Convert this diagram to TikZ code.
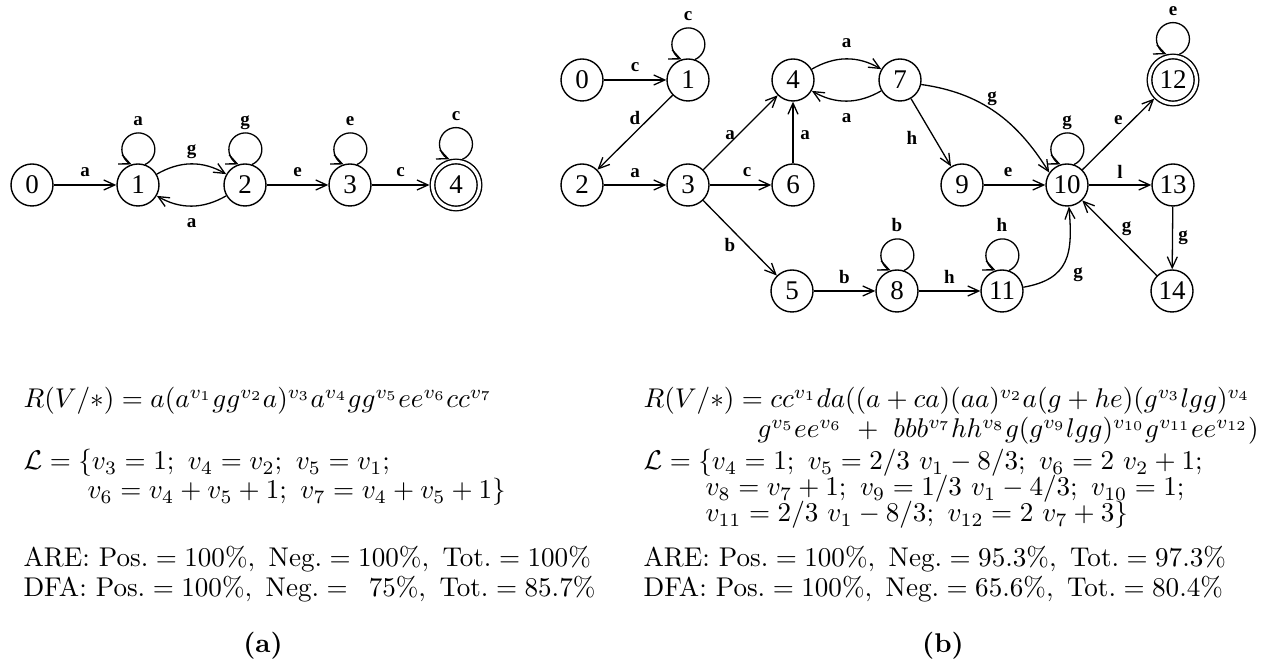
\documentclass[tikz,border=0pt]{standalone}
\usepackage{fontspec}
\usetikzlibrary{arrows.meta}
\newfontfamily\timesf{Liberation Serif}
\newcommand{\nodeloop}[2]{%
  \draw[arr] (#1.71) arc[start angle=-66, end angle=246, radius=16.5pt];
  \node[lab, anchor=base] at ([yshift=59pt]#1.center) {#2};}
\newcommand{\accloop}[2]{%
  \draw[arr] (#1.76) arc[start angle=-67, end angle=247, radius=16.5pt];
  \node[lab, anchor=base] at ([yshift=64pt]#1.center) {#2};}
\tikzset{
  st/.style={circle, draw, line width=1.4pt, minimum size=42pt, inner sep=0pt,
    font=\fontsize{27}{27}\selectfont\timesf},
  acc/.style={st, double, double distance=3.2pt, minimum size=47pt, outer sep=3pt},
  arr/.style={line width=1.3pt, -{Straight Barb[length=11pt,width=10pt]}},
  lab/.style={font=\fontsize{19}{19}\selectfont\timesf\bfseries, inner sep=0pt},
  txt/.style={anchor=base west, inner sep=0pt, scale=2.71},
  subcap/.style={anchor=base, inner sep=0pt, scale=2.71, font=\bfseries}
}
\begin{document}
\begin{tikzpicture}[x=1pt,y=1pt]
\useasboundingbox (0,0) rectangle (1278,667);
% ---------- left automaton ----------
\node[st] (a0) at (32,482) {0};
\node[st] (a1) at (138,482) {1};
\node[st] (a2) at (245,482) {2};
\node[st] (a3) at (350,482) {3};
\node[acc] (a4) at (456,482) {4};
\draw[arr] (a0) -- node[lab, yshift=13pt]{a} (a1);
\draw[arr] (a1) to[bend left=30] node[lab, yshift=12pt]{g} (a2);
\draw[arr] (a2) to[bend left=30] node[lab, yshift=-17pt]{a} (a1);
\draw[arr] (a2) -- node[lab, yshift=13pt]{e} (a3);
\draw[arr] (a3) -- node[lab, yshift=13pt]{c} (a4);
\nodeloop{a1}{a}
\nodeloop{a2}{g}
\nodeloop{a3}{e}
\accloop{a4}{c}
% ---------- right automaton ----------
\node[st] (b0) at (582,587) {0};
\node[st] (b1) at (688,587) {1};
\node[st] (b2) at (582,482) {2};
\node[st] (b3) at (688,482) {3};
\node[st] (b4) at (793,587) {4};
\node[st] (b7) at (900,587) {7};
\node[st] (b6) at (793,482) {6};
\node[st] (b9) at (962,482) {9};
\node[st] (b10) at (1067,482) {10};
\node[acc] (b12) at (1173,587) {12};
\node[st] (b13) at (1173,482) {13};
\node[st] (b14) at (1172,376) {14};
\node[st] (b5) at (792,376) {5};
\node[st] (b8) at (897,376) {8};
\node[st] (b11) at (1002,376) {11};
\draw[arr] (b0) -- node[lab, yshift=13pt]{c} (b1);
\nodeloop{b1}{c}
\draw[arr] (b1) -- node[lab, yshift=14.5pt]{d} (b2);
\draw[arr] (b2) -- node[lab, yshift=12pt]{a} (b3);
\draw[arr] (b3) -- node[lab, xshift=-10.5pt, yshift=-2.5pt]{a} (b4);
\draw[arr] (b3) -- node[lab, xshift=6.5pt, yshift=13pt]{c} (b6);
\draw[arr] (b6) -- node[lab, xshift=12pt, yshift=-2.5pt]{a} (b4);
\draw[arr] (b4) to[bend left=30] node[lab, yshift=16pt]{a} (b7);
\draw[arr] (b7) to[bend left=30] node[lab, yshift=-17pt]{a} (b4);
\draw[arr] (b3) -- node[lab, xshift=-10pt, yshift=-7pt]{b} (b5);
\draw[arr] (b5) -- node[lab, yshift=14pt]{b} (b8);
\nodeloop{b8}{b}
\draw[arr] (b8) -- node[lab, yshift=14pt]{h} (b11);
\nodeloop{b11}{h}
\draw[arr] (b11.10) to[out=10, in=-85, looseness=1.3] node[lab, xshift=13pt, yshift=-13pt]{g} (b10.-85);
\draw[arr] (b7) -- node[lab, xshift=-19pt, yshift=-5.5pt]{h} (b9);
\draw[arr] (b7.-12) to[out=-8, in=122] node[lab, xshift=-3.7pt, yshift=14pt]{g} (b10.145);
\draw[arr] (b9) -- node[lab, xshift=-6.5pt, yshift=13pt]{e} (b10);
\nodeloop{b10}{g}
\draw[arr] (b10) -- node[lab, yshift=14.5pt]{e} (b12);
\accloop{b12}{e}
\draw[arr] (b10) -- node[lab, yshift=13pt]{l} (b13);
\draw[arr] (b13) -- node[lab, xshift=10.5pt]{g} (b14);
\draw[arr] (b14) -- node[lab, xshift=7pt, yshift=9pt]{g} (b10);
% ---------- left text ----------
\node[txt] (tl1) at (23,259) {$R(V/*) = a(a^{v_1}gg^{v_2}a)^{v_3}a^{v_4}gg^{v_5}ee^{v_6}cc^{v_7}$};
\node[txt] (tl2) at (23,197) {$\mathcal{L} = \{v_3 = 1;\ v_4 = v_2;\ v_5 = v_1;$};
\node[txt] (tl3) at (87,168) {$v_6 = v_4 + v_5 + 1;\ v_7 = v_4 + v_5 + 1\}$};
\node[txt] (tl4) at (23,100) {$\mbox{ARE: Pos.} = 100\%,\ \mbox{Neg.} = 100\%,\ \mbox{Tot.} = 100\%$};
\node[txt] (tl5) at (23,70) {$\mbox{DFA: Pos.} = 100\%,\ \mbox{Neg.} = \phantom{0}75\%,\ \mbox{Tot.} = 85.7\%$};
\node[subcap] (capa) at (263,14) {(a)};
% ---------- right text ----------
\node[txt] (tr1) at (643,259) {$R(V/*) = cc^{v_1}da((a+ca)(aa)^{v_2}a(g+he)(g^{v_3}lgg)^{v_4}$};
\node[txt] (tr2) at (757,229) {$g^{v_5}ee^{v_6}\ +\ bbb^{v_7}hh^{v_8}g(g^{v_9}lgg)^{v_{10}}g^{v_{11}}ee^{v_{12}})$};
\node[txt] (tr3) at (643,197) {$\mathcal{L} = \{v_4 = 1;\ v_5 = 2/3\ v_1 - 8/3;\ v_6 = 2\ v_2 + 1;$};
\node[txt] (tr4) at (705,171) {$v_8 = v_7 + 1;\ v_9 = 1/3\ v_1 - 4/3;\ v_{10} = 1;$};
\node[txt] (tr5) at (705,145) {$v_{11} = 2/3\ v_1 - 8/3;\ v_{12} = 2\ v_7 + 3\}$};
\node[txt] (tr6) at (643,100) {$\mbox{ARE: Pos.} = 100\%,\ \mbox{Neg.} = 95.3\%,\ \mbox{Tot.} = 97.3\%$};
\node[txt] (tr7) at (643,70) {$\mbox{DFA: Pos.} = 100\%,\ \mbox{Neg.} = 65.6\%,\ \mbox{Tot.} = 80.4\%$};
\node[subcap] (capb) at (943,14) {(b)};
\end{tikzpicture}
\end{document}
